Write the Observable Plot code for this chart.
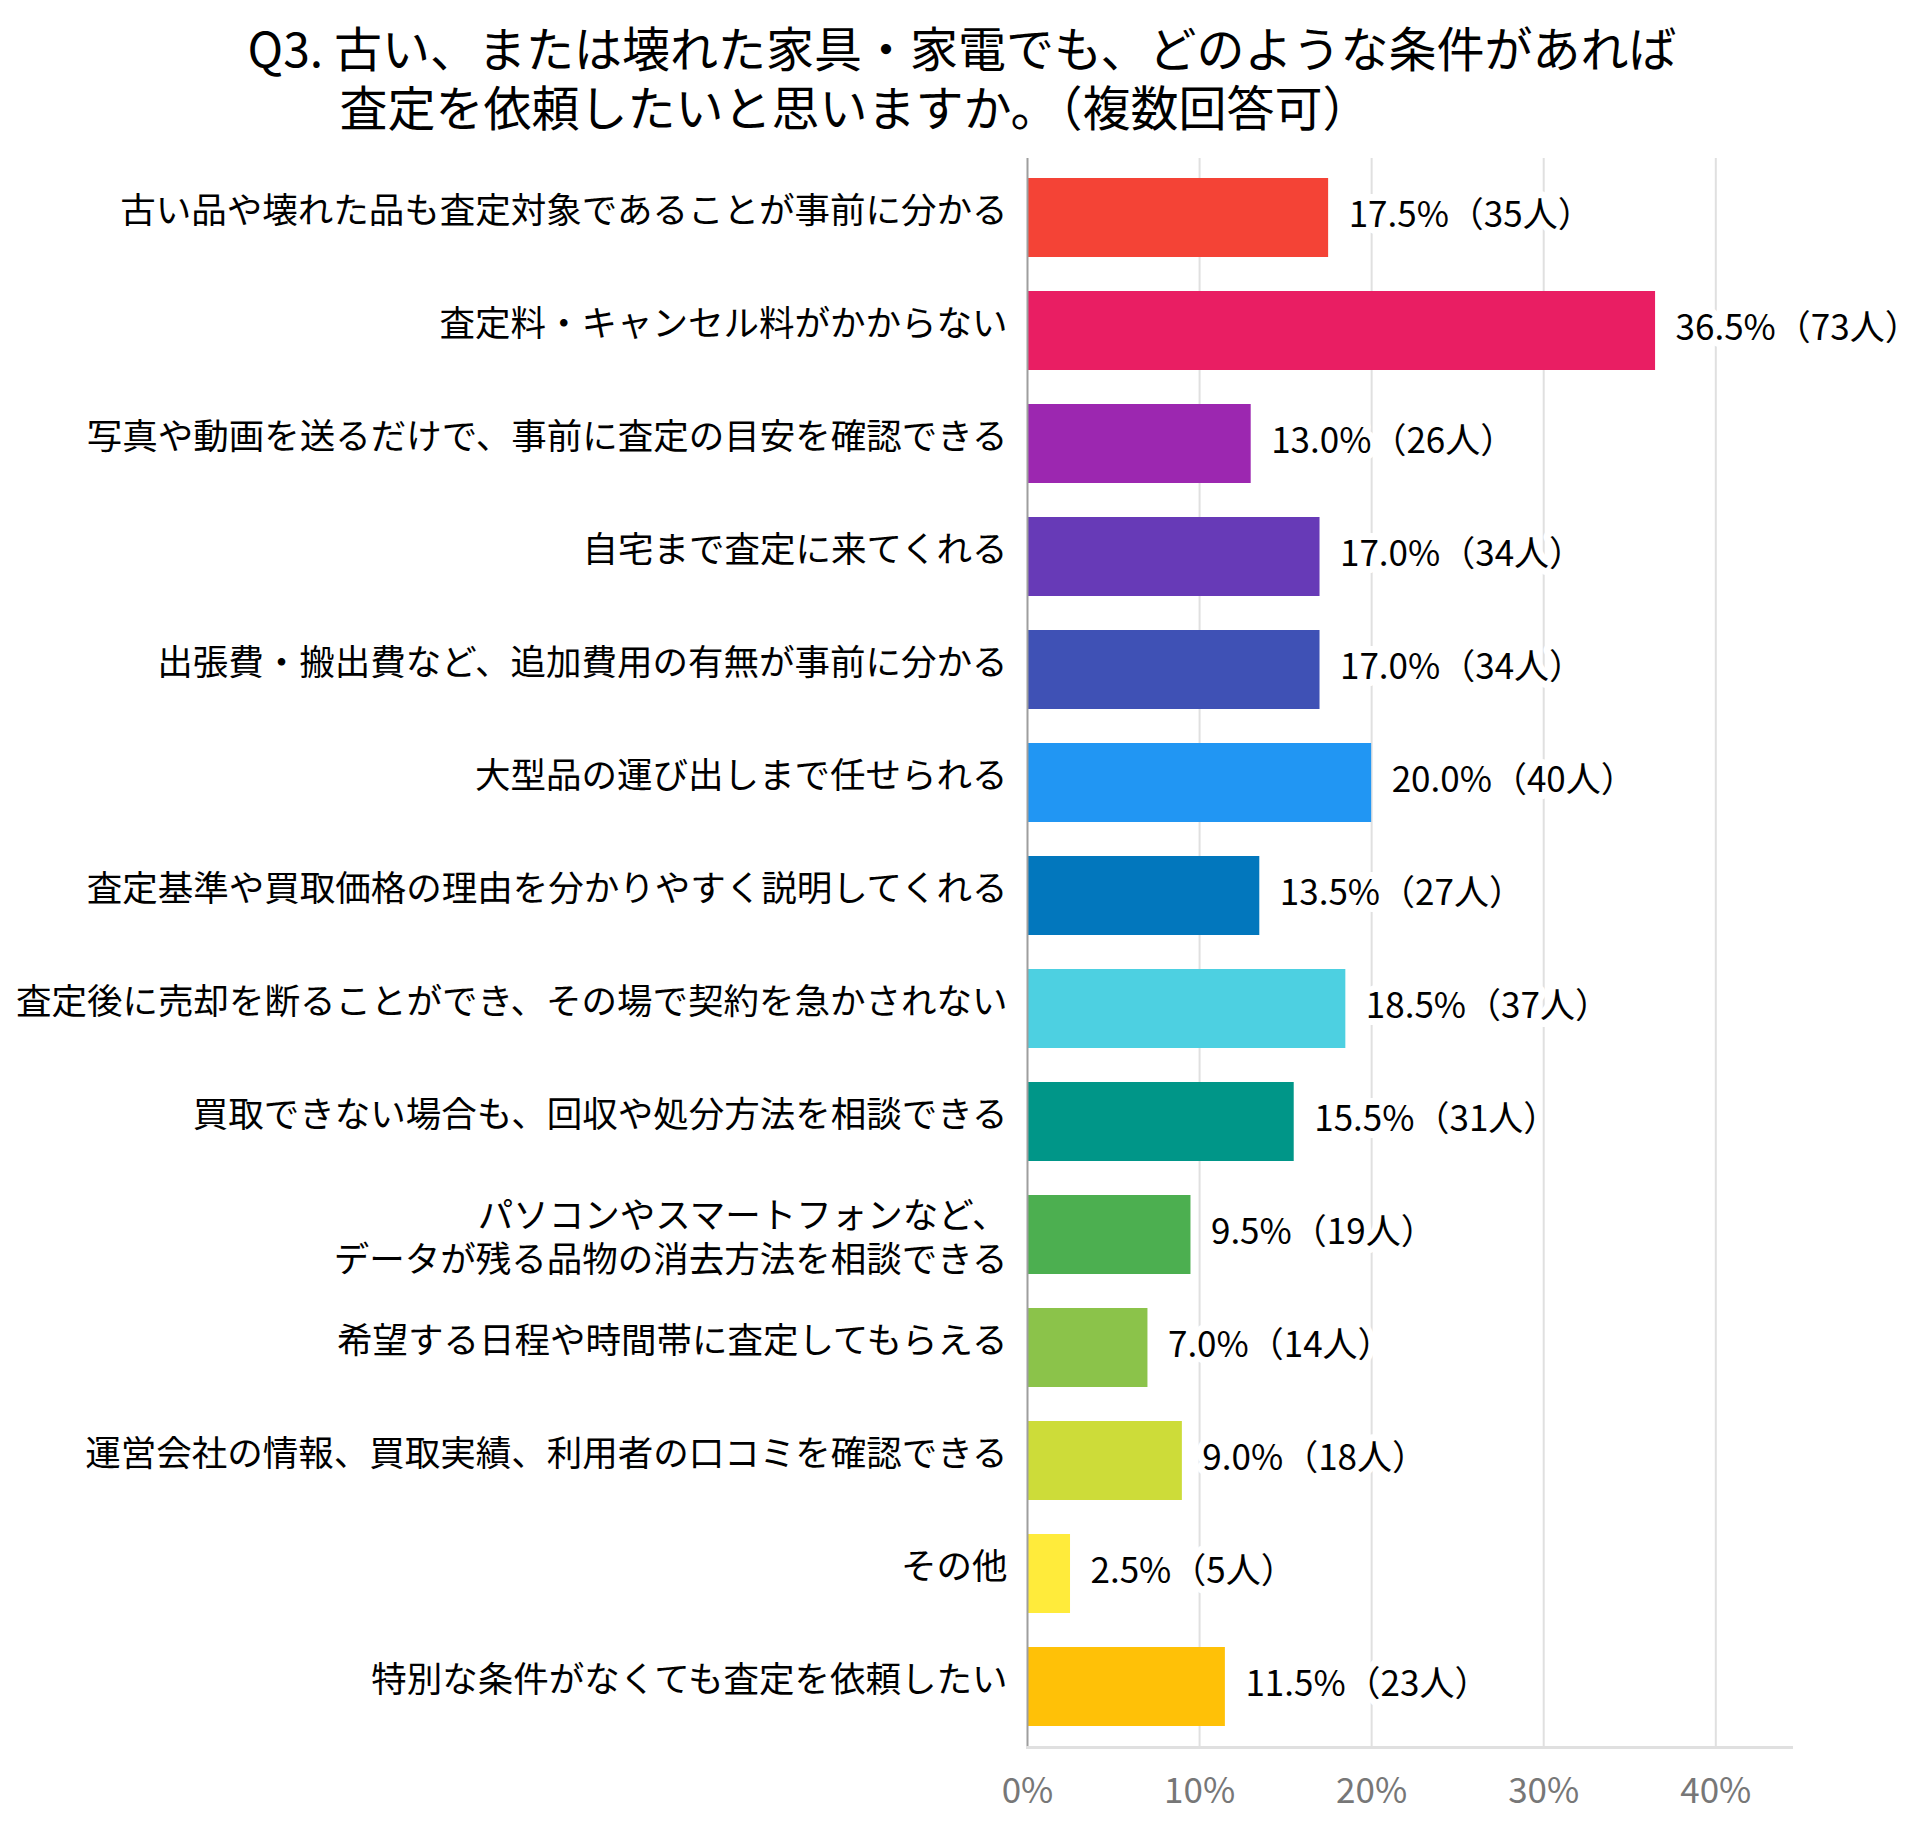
<!DOCTYPE html>
<html>
<head>
<meta charset="utf-8">
<script src="https://cdn.jsdelivr.net/npm/d3@7"></script>
<script src="https://cdn.jsdelivr.net/npm/@observablehq/plot@0.6"></script>
<style>
  html, body { margin: 0; padding: 0; background: #fff; }
  body { width: 1930px; font-family: "Noto Sans CJK JP", "Noto Sans", sans-serif; }
  #title { height: 140px; box-sizing: border-box; padding-top: 17px; font-size: 48px; line-height: 59px; color: #000; }
  #title div { text-align: center; white-space: nowrap; }
  #chart svg { display: block; }
</style>
</head>
<body>
<div id="title">
  <div style="width:1924px">Q3. 古い、または壊れた家具・家電でも、どのような条件があれば</div>
  <div style="width:1710px">査定を依頼したいと思いますか。（複数回答可）</div>
</div>
<div id="chart"></div>
<script>
const categories = [
  "古い品や壊れた品も査定対象であることが事前に分かる",
  "査定料・キャンセル料がかからない",
  "写真や動画を送るだけで、事前に査定の目安を確認できる",
  "自宅まで査定に来てくれる",
  "出張費・搬出費など、追加費用の有無が事前に分かる",
  "大型品の運び出しまで任せられる",
  "査定基準や買取価格の理由を分かりやすく説明してくれる",
  "査定後に売却を断ることができ、その場で契約を急かされない",
  "買取できない場合も、回収や処分方法を相談できる",
  "パソコンやスマートフォンなど、\nデータが残る品物の消去方法を相談できる",
  "希望する日程や時間帯に査定してもらえる",
  "運営会社の情報、買取実績、利用者の口コミを確認できる",
  "その他",
  "特別な条件がなくても査定を依頼したい"
];
const percents = [17.5, 36.5, 13.0, 17.0, 17.0, 20.0, 13.5, 18.5, 15.5, 9.5, 7.0, 9.0, 2.5, 11.5];
const counts = [35, 73, 26, 34, 34, 40, 27, 37, 31, 19, 14, 18, 5, 23];
const colors = ["#F44336", "#E91E63", "#9C27B0", "#673AB7", "#3F51B5", "#2196F3", "#0277BD",
                "#4DD0E1", "#009688", "#4CAF50", "#8BC34A", "#CDDC39", "#FFEB3B", "#FFC107"];
const xTicks = [0, 10, 20, 30, 40];
const xMax = 44.4;

const data = categories.map((c, i) => ({
  label: c,
  value: percents[i],
  count: counts[i],
  text: `${percents[i].toFixed(1)}%（${counts[i]}人）`
}));

const labelStyle = { x: 0, y: "label", text: "label", textAnchor: "end", dx: -20,
                     fontSize: 35.5, lineHeight: 1.25, fill: "#000" };

const chart = Plot.plot({
  width: 1930,
  height: 1693,
  marginTop: 18,
  marginBottom: 86,
  marginLeft: 1027,
  marginRight: 139,
  style: { fontFamily: '"Noto Sans CJK JP", "Noto Sans", sans-serif', background: "#fff" },
  x: { domain: [0, xMax], label: null },
  y: { domain: categories, paddingInner: 0.3, paddingOuter: 0.15, axis: null },
  color: { domain: categories, range: colors },
  marks: [
    Plot.ruleX(xTicks.slice(1), { stroke: "#e0e0e0", strokeWidth: 2 }),
    Plot.barX(data, { x: "value", y: "label", fill: "label" }),
    Plot.ruleX([0], { stroke: "#9e9e9e", strokeWidth: 2 }),
    Plot.frame({ anchor: "bottom", stroke: "#e0e0e0", strokeWidth: 3 }),
    Plot.axisX({ ticks: xTicks, tickFormat: d => d + "%", tickSize: 0, tickPadding: 31,
                 fontSize: 35, color: "#777777", label: null }),
    Plot.text(data, { ...labelStyle, dy: -9, filter: d => !d.label.includes("\n") }),
    Plot.text(data, { ...labelStyle, dy: 1, filter: d => d.label.includes("\n") }),
    Plot.text(data, { x: "value", y: "label", text: "text", textAnchor: "start", dx: 20, dy: -2,
                      fontSize: 35, fill: "#000", stroke: "#fff", strokeWidth: 14 })
  ]
});
document.getElementById("chart").appendChild(chart);
</script>
</body>
</html>
